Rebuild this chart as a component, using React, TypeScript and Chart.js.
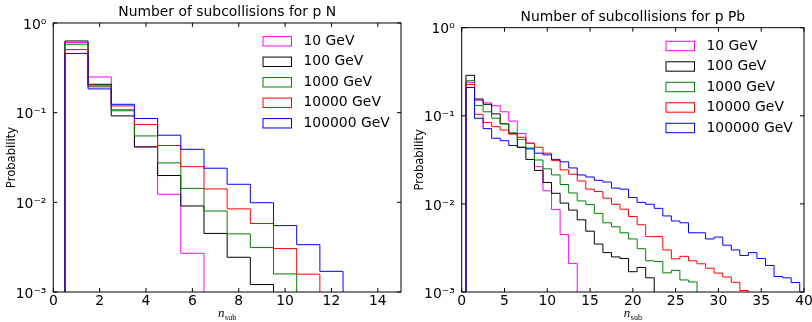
import React, { useEffect, useRef } from "react";
import { Chart, registerables } from "chart.js";

Chart.register(...registerables);

const FONT = "'DejaVu Sans', sans-serif";
Chart.defaults.font.family = FONT;
Chart.defaults.color = "#000";

// ---------- data ----------
const SERIES_LABELS = ["10 GeV", "100 GeV", "1000 GeV", "10000 GeV", "100000 GeV"];
const SERIES_COLORS = ["#ff00ff", "#000000", "#008000", "#ff0000", "#0000ff"];

// histogram bins are centred on n_sub = 1, 2, 3, ... (width 1)
const FIRST_BIN = 1;
const BIN_WIDTH = 1;

// p N
const pN_10GeV = [0.605, 0.25, 0.108, 0.0415, 0.0123, 0.0027];
const pN_100GeV = [0.63, 0.207, 0.092, 0.0415, 0.0199, 0.0091, 0.0045, 0.00244, 0.00121];
const pN_1000GeV = [0.579, 0.194, 0.105, 0.055, 0.0275, 0.0143, 0.008, 0.00445, 0.00313, 0.00159];
const pN_10000GeV = [0.505, 0.199, 0.119, 0.0736, 0.043, 0.025, 0.0141, 0.00845, 0.0058, 0.00305, 0.00158];
const pN_100000GeV = [0.456, 0.184, 0.124, 0.086, 0.056, 0.039, 0.024, 0.0159, 0.0099, 0.0055, 0.00337, 0.0017];

// p Pb
const pPb_10GeV = [0.24, 0.15, 0.14, 0.13, 0.111, 0.087, 0.063, 0.049, 0.0265, 0.0141, 0.0086, 0.0045, 0.0021];
const pPb_100GeV = [0.288, 0.155, 0.135, 0.105, 0.081, 0.063, 0.044, 0.032, 0.024, 0.0175, 0.0132, 0.0102, 0.0085, 0.0066, 0.0049, 0.0035, 0.0028, 0.0025, 0.0024, 0.0017, 0.0019, 0.00145];
const pPb_1000GeV = [0.25, 0.131, 0.111, 0.094, 0.081, 0.064, 0.054, 0.043, 0.0315, 0.025, 0.0213, 0.0166, 0.0133, 0.0108, 0.0098, 0.0078, 0.0061, 0.0055, 0.0047, 0.004, 0.0031, 0.00226, 0.00222, 0.00165, 0.00176, 0.00137, 0.0013];
const pPb_10000GeV = [0.227, 0.104, 0.084, 0.0753, 0.069, 0.062, 0.057, 0.0488, 0.0439, 0.0376, 0.031, 0.0243, 0.0217, 0.0182, 0.0147, 0.0138, 0.0116, 0.0099, 0.0087, 0.0072, 0.0058, 0.00425, 0.00425, 0.003, 0.00238, 0.00254, 0.00226, 0.00209, 0.00186, 0.00164, 0.00148, 0.00129, 0.00104];
const pPb_100000GeV = [0.2095, 0.0937, 0.0715, 0.0556, 0.0522, 0.046, 0.0437, 0.0421, 0.0376, 0.036, 0.032, 0.03, 0.0256, 0.0213, 0.0202, 0.0185, 0.0177, 0.0151, 0.0147, 0.0118, 0.0104, 0.0099, 0.0089, 0.0073, 0.0064, 0.0061, 0.0047, 0.0047, 0.004, 0.0042, 0.0034, 0.003, 0.0026, 0.0028, 0.0024, 0.002, 0.0015, 0.00145, 0.00128];

const Y_MIN = 1e-3;
const Y_MAX = 1;
const Y_TICKS = [1e-3, 1e-2, 1e-1, 1];
const X_TICKS_PN = [0, 2, 4, 6, 8, 10, 12, 14];
const X_TICKS_PPB = [0, 5, 10, 15, 20, 25, 30, 35, 40];
const X_MAX_PN = 15;
const X_MAX_PPB = 40;

const TITLE_PN = "Number of subcollisions for p N";
const TITLE_PPB = "Number of subcollisions for p Pb";
const Y_LABEL = "Probability";

// ---------- styling ----------
const HEIGHT = 322;
const TEXT_SIZE = 13.9;
const LABEL_SIZE = 11.6;
const X_AXIS_HEIGHT = 30;

const SUP: Record<string, string> = {
  "0": "\u2070", "1": "\u00b9", "2": "\u00b2", "3": "\u00b3", "4": "\u2074",
  "5": "\u2075", "6": "\u2076", "7": "\u2077", "8": "\u2078", "9": "\u2079", "-": "\u207b",
};

function stepPoints(values: number[]) {
  const half = BIN_WIDTH / 2;
  const pts = [{ x: FIRST_BIN - half, y: Y_MIN }];
  values.forEach((v, i) => pts.push({ x: FIRST_BIN + i * BIN_WIDTH - half, y: v }));
  pts.push({ x: FIRST_BIN + values.length * BIN_WIDTH - half, y: Y_MIN });
  return pts;
}

const decorPlugin = {
  id: "decor",
  afterDraw(chart: any, _args: any, opts: any) {
    const { ctx, chartArea: a } = chart;
    const xs = chart.scales.x;
    const ys = chart.scales.y;
    ctx.save();
    ctx.strokeStyle = "#000";
    ctx.lineWidth = 1;
    ctx.strokeRect(a.left, a.top, a.right - a.left, a.bottom - a.top);
    const TL = 4;
    const line = (x1: number, y1: number, x2: number, y2: number) => {
      ctx.beginPath();
      ctx.moveTo(x1, y1);
      ctx.lineTo(x2, y2);
      ctx.stroke();
    };
    xs.ticks.forEach((t: any) => {
      const px = xs.getPixelForValue(t.value);
      line(px, a.bottom, px, a.bottom - TL);
      line(px, a.top, px, a.top + TL);
    });
    ys.ticks.forEach((t: any) => {
      const py = ys.getPixelForValue(t.value);
      line(a.left, py, a.left + TL, py);
      line(a.right, py, a.right - TL, py);
    });

    // legend
    ctx.font = `${TEXT_SIZE}px ${FONT}`;
    ctx.textBaseline = "middle";
    ctx.textAlign = "left";
    chart.data.datasets.forEach((ds: any, i: number) => {
      const cy = a.top + 18.3 + i * 20.5;
      ctx.strokeStyle = ds.borderColor;
      ctx.lineWidth = 1;
      ctx.strokeRect(a.right - 138, cy - 4.7, 28.5, 9.4);
      ctx.fillStyle = "#000";
      ctx.fillText(ds.label, a.right - 97.5, cy);
    });

    // x-axis title: n_sub
    const cx = (a.left + a.right) / 2;
    ctx.textBaseline = "alphabetic";
    ctx.font = `italic 13px 'Liberation Serif', serif`;
    const wN = ctx.measureText(opts.xBase).width;
    ctx.font = `8px 'Liberation Serif', serif`;
    const wS = ctx.measureText(opts.xSub).width;
    const start = cx - (wN + wS + 0.5) / 2;
    ctx.fillStyle = "#000";
    ctx.font = `italic 13px 'Liberation Serif', serif`;
    ctx.fillText(opts.xBase, start, a.bottom + 24.5);
    ctx.font = `8px 'Liberation Serif', serif`;
    ctx.fillText(opts.xSub, start + wN + 0.5, a.bottom + 27.5);
    ctx.restore();
  },
};

type Panel = {
  title: string;
  series: number[][];
  xMax: number;
  xTicks: number[];
  width: number;
  padTop: number;
  padRight: number;
  yAxisWidth: number;
  yTitlePad: number;
};

function buildConfig(p: Panel): any {
  const n = p.series.length;
  const datasets = p.series.map((vals, i) => ({
    label: SERIES_LABELS[i],
    data: stepPoints(vals),
    borderColor: SERIES_COLORS[i],
    backgroundColor: SERIES_COLORS[i],
    borderWidth: 1,
    pointRadius: 0,
    pointHoverRadius: 0,
    fill: false,
    tension: 0,
    stepped: true,
    order: n - 1 - i,
  }));
  return {
    type: "line",
    data: { datasets },
    plugins: [decorPlugin],
    options: {
      animation: false,
      responsive: false,
      devicePixelRatio: 1,
      events: [],
      layout: { padding: { left: 0, right: p.padRight, top: p.padTop, bottom: 0 } },
      plugins: {
        legend: { display: false },
        tooltip: { enabled: false },
        title: {
          display: true,
          text: p.title,
          fullSize: false,
          color: "#000",
          font: { size: TEXT_SIZE, weight: "normal", family: FONT },
          padding: { top: 4.2, bottom: 2.1 },
        },
        decor: { xBase: "n", xSub: "sub" },
      },
      scales: {
        x: {
          type: "linear",
          min: 0,
          max: p.xMax,
          bounds: "data",
          grid: { display: false, drawTicks: false },
          border: { display: false },
          ticks: { autoSkip: false, maxRotation: 0, padding: 1.5, color: "#000", font: { size: TEXT_SIZE } },
          afterBuildTicks: (s: any) => {
            s.ticks = p.xTicks.map((value) => ({ value }));
          },
          afterFit: (s: any) => {
            s.height = X_AXIS_HEIGHT;
            s.paddingLeft = 0;
            s.paddingRight = 0;
          },
        },
        y: {
          type: "logarithmic",
          min: Y_MIN,
          max: Y_MAX,
          grid: { display: false, drawTicks: false },
          border: { display: false },
          ticks: {
            autoSkip: false,
            padding: 7,
            labelOffset: 2,
            color: "#000",
            font: { size: TEXT_SIZE },
            callback: (v: any) =>
              "10" + String(Math.round(Math.log10(Number(v)))).split("").map((c) => SUP[c]).join(""),
          },
          afterBuildTicks: (s: any) => {
            s.ticks = Y_TICKS.map((value) => ({ value }));
          },
          afterFit: (s: any) => {
            s.width = p.yAxisWidth;
            s.paddingTop = 0;
            s.paddingBottom = 0;
          },
          title: {
            display: true,
            text: Y_LABEL,
            color: "#000",
            font: { size: LABEL_SIZE },
            padding: { top: p.yTitlePad, bottom: 0 },
          },
        },
      },
    },
  };
}

const PANEL_PN: Panel = {
  title: TITLE_PN,
  series: [pN_10GeV, pN_100GeV, pN_1000GeV, pN_10000GeV, pN_100000GeV],
  xMax: X_MAX_PN,
  xTicks: X_TICKS_PN,
  width: 410,
  padTop: 0,
  padRight: 9,
  yAxisWidth: 53.3,
  yTitlePad: 5.5,
};

const PANEL_PPB: Panel = {
  title: TITLE_PPB,
  series: [pPb_10GeV, pPb_100GeV, pPb_1000GeV, pPb_10000GeV, pPb_100000GeV],
  xMax: X_MAX_PPB,
  xTicks: X_TICKS_PPB,
  width: 402,
  padTop: 4.7,
  padRight: 8,
  yAxisWidth: 51.7,
  yTitlePad: 3.5,
};

function ChartPanel({ panel, left }: { panel: Panel; left: number }) {
  const ref = useRef<HTMLCanvasElement>(null);
  useEffect(() => {
    const chart = new Chart(ref.current as HTMLCanvasElement, buildConfig(panel));
    return () => chart.destroy();
  }, [panel]);
  return (
    <canvas
      ref={ref}
      width={panel.width}
      height={HEIGHT}
      style={{ position: "absolute", left, top: 0, width: panel.width, height: HEIGHT, display: "block" }}
    />
  );
}

export default function App() {
  return (
    <div style={{ position: "fixed", left: 0, top: 0, width: 812, height: HEIGHT, background: "#fff", overflow: "hidden" }}>
      <ChartPanel panel={PANEL_PN} left={0} />
      <ChartPanel panel={PANEL_PPB} left={410} />
    </div>
  );
}
